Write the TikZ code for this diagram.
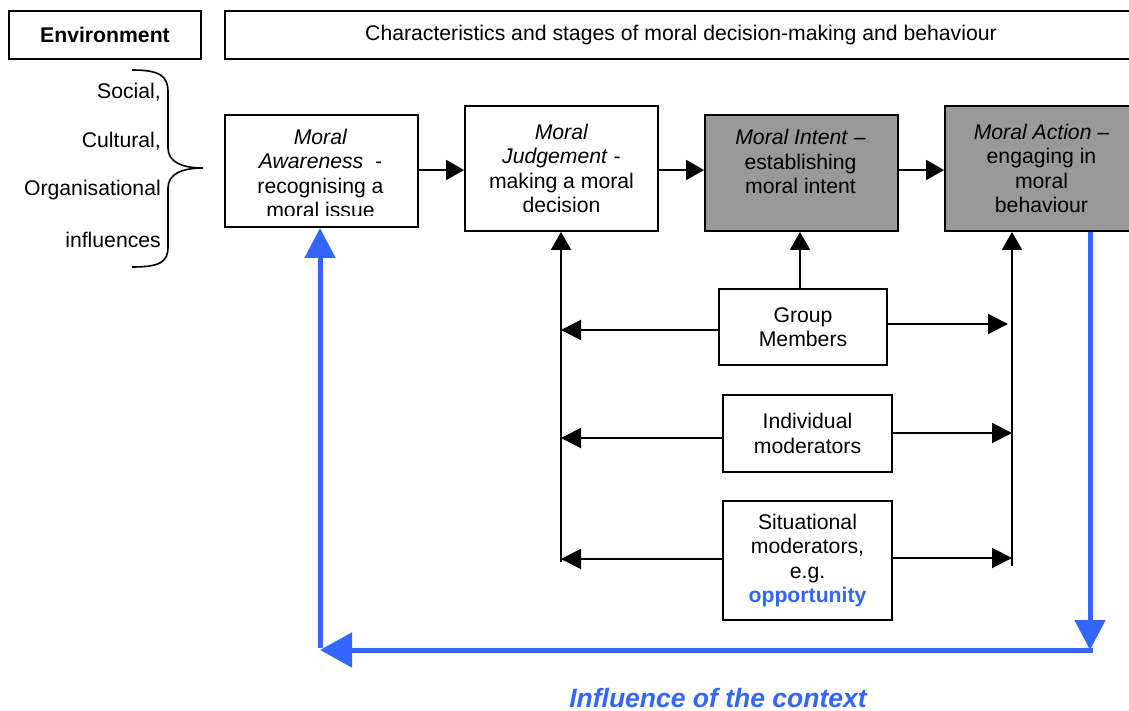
\documentclass[tikz,border=0pt]{standalone}
\usepackage{fontspec}
\setmainfont{Liberation Sans}
\usetikzlibrary{arrows.meta}
\definecolor{boxgray}{HTML}{999999}
\definecolor{ctxblue}{HTML}{3366FF}

\begin{document}
\begin{tikzpicture}[x=1pt,y=-1pt,
  txt/.style={font=\fontsize{21.2}{24.3}\selectfont, align=center, inner sep=0pt},
  box/.style={txt, draw=black, line width=2pt, anchor=north west},
  lbl/.style={font=\fontsize{21.2}{24}\selectfont, inner sep=0pt, anchor=east},
  flow/.style={line width=2pt, -{Triangle[length=18pt,width=20pt]}},
  side/.style={line width=2pt, -{Triangle[length=20pt,width=20pt]}},
  ctx/.style={ctxblue, line width=5pt},
]
\useasboundingbox (0,0) rectangle (1129,711);

% header row
\node[box, minimum width=192pt, minimum height=48pt, font=\fontsize{21.2}{24}\selectfont\bfseries] (env) at (8,10) {Environment};
\node[box, minimum width=912pt, minimum height=48pt] (char) at (224,10) {Characteristics and stages of moral decision-making and behaviour};

% environmental influences with brace
\node[lbl] (social) at (161,92) {Social,};
\node[lbl] (cultural) at (161,141) {Cultural,};
\node[lbl] (organ) at (161,190) {Organisational};
\node[lbl] (infl) at (161,240) {influences};
\draw[line width=1.6pt] (132,70) .. controls (160,70) and (168,76) .. (168,92)
  -- (168,148) .. controls (168,162) and (182,168) .. (203,168)
  .. controls (182,168) and (168,174) .. (168,188)
  -- (168,247) .. controls (168,262) and (160,267) .. (132,267);

% stages
\node[box, minimum width=193pt, minimum height=112pt] (aware) at (224,114) {};
\begin{scope}
  \clip (224,114) rectangle (417,216);
  \node[txt] (awareT) at (320.5,173.5) {\textit{Moral}\\\textit{Awareness}\ \ -\\recognising a\\moral issue};
\end{scope}
\node[box, minimum width=193pt, minimum height=125pt] (judge) at (464,105) {\textit{Moral}\\\textit{Judgement} -\\making a moral\\decision};
\node[box, minimum width=193pt, minimum height=116pt, fill=boxgray] (intent) at (704,114) {};
\node[txt] (intentT) at (800.5,161.5) {\textit{Moral Intent} –\\establishing\\moral intent};
\node[box, minimum width=193pt, minimum height=125pt, fill=boxgray] (action) at (944,105) {\textit{Moral Action} –\\engaging in\\moral\\behaviour};

\draw[flow] (aware.east |- 0,170) -- (judge.west |- 0,170);
\draw[flow] (judge.east |- 0,170) -- (intent.west |- 0,170);
\draw[flow] (intent.east |- 0,170) -- (action.west |- 0,170);

% moderators
\node[box, minimum width=168pt, minimum height=76pt] (group) at (718,288) {Group\\Members};
\node[box, minimum width=169pt, minimum height=77pt] (indiv) at (722,394) {Individual\\moderators};
\node[box, minimum width=169pt, minimum height=119pt] (situ) at (722,500) {Situational\\moderators,\\e.g.\\\textcolor{ctxblue}{\textbf{opportunity}}};

\coordinate (railL) at (561,562);
\coordinate (railR) at (1012,566);
\draw[flow] (railL) -- (judge.south -| railL);
\draw[flow] (railR) -- (action.south -| railR);
\draw[flow] (group.north -| 800,0) -- (intent.south -| 800,0);

\draw[side] (group.west |- 0,330) -- (railL |- 0,330);
\draw[side] (group.east |- 0,324) -- ([xshift=-4pt]railR |- 0,324);
\draw[side] (indiv.west |- 0,438) -- (railL |- 0,438);
\draw[side] (indiv.east |- 0,433) -- (railR |- 0,433);
\draw[side] (situ.west |- 0,559) -- (railL |- 0,559);
\draw[side] (situ.east |- 0,558) -- (railR |- 0,558);

% feedback loop
\coordinate (fbR) at (1090,650);
\coordinate (fbL) at (320,650);
\draw[ctx, -{Triangle[length=30pt,width=30pt]}] (action.south -| fbR) -- (fbR);
\draw[ctx, -{Triangle[length=32pt,width=34pt]}] ([xshift=3pt]fbR) -- (fbL);
\draw[ctx, -{Triangle[length=30pt,width=30pt]}] ([yshift=2.5pt]fbL) -- (aware.south -| fbL);

\node[font=\fontsize{26.5}{30}\selectfont\bfseries\itshape, text=ctxblue, inner sep=0pt] (ctxT) at (718,698) {Influence of the context};
\end{tikzpicture}
\end{document}
